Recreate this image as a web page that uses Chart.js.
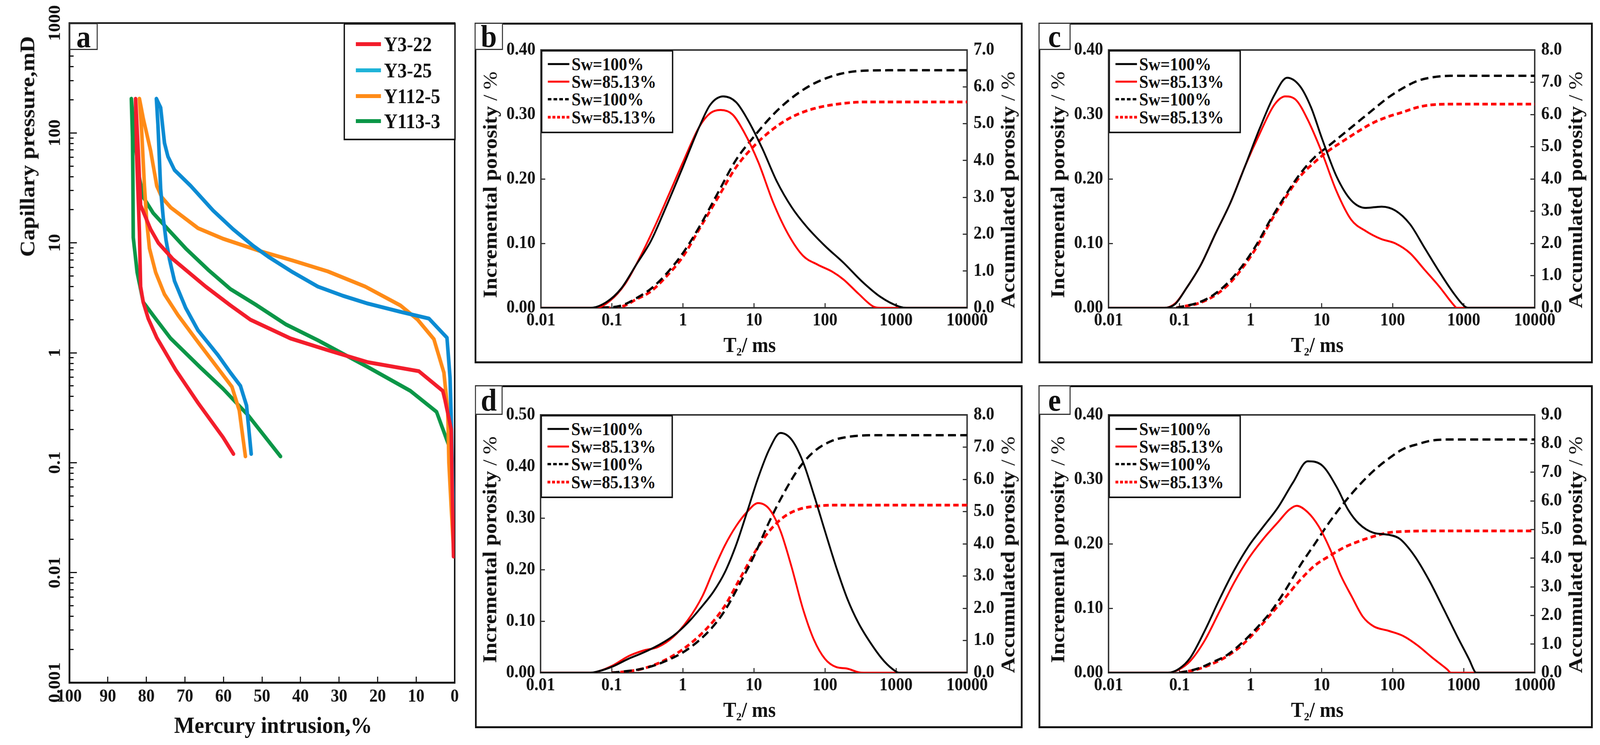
<!DOCTYPE html>
<html lang="en">
<head>
<meta charset="utf-8">
<title>Capillary pressure and NMR T2 spectra</title>
<script src="https://cdn.jsdelivr.net/npm/chart.js@4.4.1/dist/chart.umd.min.js"></script>
<style>
html, body { margin: 0; padding: 0; background: #fff; overflow: hidden; }
#stage {
  position: absolute; left: 0; top: 0; width: 4434px; height: 1907px; overflow: hidden; transform-origin: 0 0;
  font-family: 'Liberation Serif', 'Times New Roman', serif; font-weight: bold; color: #111; background: #fff;
}
.wrap { position: absolute; }
.wrap canvas { display: block; }
.box { position: absolute; box-sizing: border-box; border: 5px solid #111; }
.tag { position: absolute; box-sizing: border-box; border: 3px solid #333; background: #fff;
  display: flex; align-items: center; justify-content: center; font-size: 80px; line-height: 1; z-index: 3; }
.legend { position: absolute; box-sizing: border-box; border: 4px solid #111; background: #fff; z-index: 3; }
.legend .row { position: absolute; display: flex; align-items: center; white-space: nowrap; }
.legend svg { display: block; }
.title { position: absolute; white-space: nowrap; transform: translate(-50%, -50%); line-height: 1; z-index: 2; }
.title.v { transform: translate(-50%, -50%) rotate(-90deg); }
.title sub { font-size: 0.55em; vertical-align: -0.3em; }
.thin { font-weight: normal; }
</style>
</head>
<body>
<div id="stage"></div>
<script>
// ---------- panel a: mercury intrusion capillary pressure ----------
const aNames = ['Y3-22', 'Y3-25', 'Y112-5', 'Y113-3'];
const aLineColors = ['#f31d2b', '#0b8bd3', '#ff8b17', '#0b9647'];
const aKeyColors = ['#f31d2b', '#1fb3d8', '#ff8b17', '#0b9647'];

// [mercury intrusion %, capillary pressure] - injection branch up to the top, then withdrawal branch
const aY3_22 = [
  [0.3, 0.014], [0.6, 0.05], [0.9, 0.2], [2.5, 0.37], [3.1, 0.45], [9.3, 0.68], [22.5, 0.82], [32.3, 1.04],
  [42.6, 1.35], [53.0, 2.0], [58.2, 2.7], [64.6, 4.0], [73.1, 7.1], [76.9, 10], [78.9, 13.3], [81.5, 22],
  [82.1, 68], [82.8, 205],
  [82.5, 60], [82.0, 20], [81.8, 12.5], [81.5, 4.0], [80.8, 2.87], [79.5, 2.04], [77.3, 1.37], [72.4, 0.70],
  [66.6, 0.35], [60.1, 0.17], [57.4, 0.12]
];
const aY3_25 = [
  [0.2, 0.014], [0.5, 0.06], [0.8, 0.19], [1.2, 0.59], [2.0, 1.37], [6.7, 2.05], [14.1, 2.36], [22.5, 2.8],
  [29.0, 3.3], [35.5, 4.0], [42.0, 5.4], [48.4, 7.5], [52.3, 9.4], [57.5, 13.3], [62.7, 19.7], [68.5, 33],
  [72.7, 46], [74.4, 61], [75.3, 81], [76.3, 170], [77.4, 205],
  [77.0, 120], [76.3, 31], [75.6, 16.6], [74.9, 10.6], [74.0, 7.1], [72.7, 4.5], [69.8, 2.56], [66.6, 1.6],
  [61.4, 0.95], [58.2, 0.66], [55.6, 0.50], [54.0, 0.33], [52.8, 0.12]
];
const aY112_5 = [
  [0.2, 0.014], [0.8, 0.034], [1.5, 0.1], [1.8, 0.30], [2.8, 0.66], [5.4, 1.33], [9.6, 2.0], [14.1, 2.7],
  [23.2, 4.0], [32.9, 5.5], [42.0, 6.9], [50.4, 8.4], [60.1, 10.9], [66.6, 13.6], [73.7, 21], [76.0, 26],
  [77.3, 33], [78.9, 69], [80.8, 135], [81.8, 205],
  [81.2, 100], [80.5, 33], [79.9, 15.7], [79.2, 8.9], [77.6, 5.4], [75.3, 3.4], [71.8, 2.2], [66.6, 1.25],
  [61.4, 0.72], [57.8, 0.49], [55.9, 0.30], [54.3, 0.114]
];
const aY113_3 = [
  [0.1, 0.014], [1.5, 0.143], [4.7, 0.29], [11.5, 0.45], [22.5, 0.74], [29.0, 0.98], [35.5, 1.3], [43.9, 1.82],
  [51.7, 2.75], [58.2, 3.8], [64.0, 5.7], [69.8, 8.9], [74.4, 13.3], [78.2, 18.6], [80.8, 26], [81.8, 39],
  [83.1, 92], [83.9, 205],
  [83.6, 92], [83.5, 39], [83.4, 11.2], [82.4, 5.4], [80.8, 2.88], [77.4, 2.0], [73.7, 1.35], [65.9, 0.73],
  [60.1, 0.47], [53.6, 0.27], [45.2, 0.114]
];

const aXTicks = [0, 10, 20, 30, 40, 50, 60, 70, 80, 90, 100];
const aXTickLabels = ['0', '10', '20', '30', '40', '50', '60', '70', '80', '90', '100'];
const aYTicks = [0.001, 0.01, 0.1, 1, 10, 100, 1000];
const aYTickLabels = ['0.001', '0.01', '0.1', '1', '10', '100', '1000'];

// ---------- panels b-e: NMR T2 spectra ----------
const seriesNames = ['Sw=100%', 'Sw=85.13%', 'Sw=100%', 'Sw=85.13%'];
const t2Ticks = [0.01, 0.1, 1, 10, 100, 1000, 10000];
const t2TickLabels = ['0.01', '0.1', '1', '10', '100', '1000', '10000'];
const incLabels40 = ['0.00', '0.10', '0.20', '0.30', '0.40'];
const incLabels50 = ['0.00', '0.10', '0.20', '0.30', '0.40', '0.50'];
const accLabels7 = ['0.0', '1.0', '2.0', '3.0', '4.0', '5.0', '6.0', '7.0'];
const accLabels8 = ['0.0', '1.0', '2.0', '3.0', '4.0', '5.0', '6.0', '7.0', '8.0'];
const accLabels9 = ['0.0', '1.0', '2.0', '3.0', '4.0', '5.0', '6.0', '7.0', '8.0', '9.0'];

// [T2 ms, porosity %]
const bInc100 = [[0.01, 0], [0.05, 0], [0.084, 0.009], [0.135, 0.030], [0.22, 0.067], [0.355, 0.104], [0.575, 0.156],
  [1, 0.219], [1.7, 0.281], [2.42, 0.315], [3.69, 0.328], [5.6, 0.319], [8.05, 0.293], [13, 0.248], [21, 0.196],
  [34, 0.156], [55, 0.126], [100, 0.096], [182, 0.070], [331, 0.041], [603, 0.017], [1100, 0.002], [1400, 0], [10000, 0]];
const bInc85 = [[0.01, 0], [0.06, 0], [0.094, 0.011], [0.153, 0.037], [0.247, 0.078], [0.40, 0.126], [0.646, 0.178],
  [1, 0.226], [1.7, 0.281], [2.42, 0.302], [3.39, 0.307], [4.98, 0.30], [7.13, 0.274], [11.5, 0.226], [18.7, 0.163],
  [30, 0.115], [48.8, 0.081], [78.8, 0.067], [127, 0.056], [182, 0.044], [295, 0.022], [479, 0.002], [600, 0], [10000, 0]];
const bAcc100 = [[0.07, 0], [0.135, 0.06], [0.22, 0.26], [0.355, 0.52], [0.575, 0.91], [1, 1.49], [1.7, 2.2],
  [3.08, 3.11], [5.6, 4.02], [10.2, 4.67], [18.7, 5.25], [34, 5.70], [70, 6.09], [162, 6.35], [376, 6.44], [977, 6.45], [10000, 6.45]];
const bAcc85 = [[0.08, 0], [0.135, 0.03], [0.22, 0.23], [0.355, 0.45], [0.575, 0.84], [1, 1.39], [1.7, 2.14],
  [3.08, 2.98], [5.6, 3.82], [10.2, 4.41], [18.7, 4.86], [34, 5.18], [70, 5.41], [162, 5.54], [376, 5.59], [977, 5.59], [10000, 5.59]];

const cInc100 = [[0.01, 0], [0.061, 0], [0.087, 0.006], [0.124, 0.030], [0.20, 0.067], [0.32, 0.115], [0.52, 0.163],
  [0.83, 0.219], [1.34, 0.278], [2.16, 0.330], [3.27, 0.357], [4.95, 0.344], [7.1, 0.311], [10.1, 0.263], [16.2, 0.204],
  [26, 0.167], [42, 0.155], [70, 0.157], [109, 0.151], [175, 0.130], [282, 0.093], [454, 0.056], [730, 0.022],
  [1042, 0.002], [1200, 0], [10000, 0]];
const cInc85 = [[0.01, 0], [0.061, 0], [0.087, 0.007], [0.124, 0.030], [0.20, 0.067], [0.32, 0.115], [0.52, 0.163],
  [0.83, 0.219], [1.34, 0.27], [2.16, 0.315], [3.08, 0.328], [4.4, 0.322], [6.3, 0.293], [10.1, 0.241], [16.2, 0.181],
  [26, 0.137], [42, 0.119], [68, 0.107], [109, 0.100], [175, 0.085], [282, 0.059], [454, 0.033], [730, 0.004], [800, 0], [10000, 0]];
const cAcc100 = [[0.09, 0], [0.11, 0.04], [0.178, 0.15], [0.286, 0.37], [0.46, 0.74], [0.74, 1.26], [1.19, 1.93],
  [1.91, 2.74], [3.08, 3.48], [4.95, 4.15], [7.96, 4.67], [12.8, 5.04], [20.6, 5.41], [33, 5.78], [53, 6.15],
  [86, 6.52], [138, 6.81], [222, 7.04], [357, 7.15], [646, 7.2], [10000, 7.2]];
const cAcc85 = [[0.09, 0], [0.11, 0.04], [0.178, 0.13], [0.286, 0.33], [0.46, 0.67], [0.74, 1.19], [1.19, 1.85],
  [1.91, 2.67], [3.08, 3.41], [4.95, 4.07], [7.96, 4.52], [12.8, 4.89], [20.6, 5.19], [33, 5.48], [53, 5.74],
  [86, 5.93], [138, 6.07], [222, 6.22], [357, 6.30], [646, 6.32], [10000, 6.32]];

const dInc100 = [[0.01, 0], [0.05, 0], [0.066, 0.003], [0.107, 0.013], [0.172, 0.027], [0.279, 0.039], [0.45, 0.053],
  [0.728, 0.071], [1.18, 0.097], [1.90, 0.130], [2.73, 0.158], [3.92, 0.195], [5.61, 0.247], [8.05, 0.312],
  [11.5, 0.378], [16.6, 0.434], [23.7, 0.465], [34, 0.452], [48.8, 0.41], [70, 0.345], [100, 0.275], [144, 0.205],
  [206, 0.144], [295, 0.097], [479, 0.050], [685, 0.022], [982, 0.003], [1100, 0], [10000, 0]];
const dInc85 = [[0.01, 0], [0.05, 0], [0.066, 0.003], [0.107, 0.015], [0.172, 0.032], [0.279, 0.043], [0.45, 0.050],
  [0.728, 0.069], [1.18, 0.102], [1.90, 0.149], [2.73, 0.2], [3.92, 0.247], [5.61, 0.284], [8.05, 0.312],
  [11.5, 0.329], [16.6, 0.317], [23.7, 0.275], [34, 0.205], [48.8, 0.125], [70, 0.064], [100, 0.027], [144, 0.011],
  [206, 0.008], [295, 0.001], [350, 0], [10000, 0]];
const dAcc100 = [[0.1, 0], [0.136, 0.03], [0.279, 0.13], [0.573, 0.36], [1.18, 0.73], [2.42, 1.33], [3.92, 1.93],
  [6.3, 2.75], [10.2, 3.65], [16.6, 4.70], [26.7, 5.59], [43, 6.34], [70, 6.86], [127, 7.2], [232, 7.33], [537, 7.37], [10000, 7.37]];
const dAcc85 = [[0.1, 0], [0.136, 0.02], [0.279, 0.13], [0.573, 0.40], [1.18, 0.84], [2.42, 1.48], [3.92, 2.08],
  [6.3, 2.90], [10.2, 3.72], [16.6, 4.40], [26.7, 4.84], [43, 5.07], [70, 5.16], [144, 5.20], [10000, 5.2]];

const eInc100 = [[0.01, 0], [0.069, 0], [0.098, 0.006], [0.141, 0.023], [0.226, 0.065], [0.365, 0.114], [0.588, 0.159],
  [0.947, 0.197], [1.52, 0.227], [2.45, 0.257], [3.95, 0.295], [6.37, 0.328], [10.3, 0.321], [16.5, 0.287],
  [23.6, 0.253], [33.7, 0.231], [54, 0.217], [87.5, 0.214], [125, 0.208], [201, 0.182], [324, 0.144], [522, 0.099],
  [841, 0.053], [1202, 0.020], [1438, 0.0015], [1500, 0], [10000, 0]];
const eInc85 = [[0.01, 0], [0.069, 0], [0.098, 0.005], [0.141, 0.018], [0.226, 0.050], [0.365, 0.095], [0.588, 0.140],
  [0.947, 0.178], [1.52, 0.208], [2.45, 0.234], [3.51, 0.253], [4.45, 0.259], [6.37, 0.249], [9.1, 0.227], [13, 0.193],
  [18.6, 0.151], [26.6, 0.118], [38, 0.087], [54, 0.072], [87.5, 0.065], [141, 0.057], [227, 0.042], [365, 0.023],
  [589, 0.005], [661, 0], [10000, 0]];
const eAcc100 = [[0.1, 0], [0.111, 0.02], [0.179, 0.14], [0.288, 0.36], [0.463, 0.61], [0.746, 1.03], [1.20, 1.54],
  [1.94, 2.14], [3.12, 2.9], [5.01, 3.75], [8.08, 4.51], [13, 5.27], [21, 5.95], [33.7, 6.54], [54, 7.05],
  [87.5, 7.47], [141, 7.81], [227, 7.98], [365, 8.11], [661, 8.14], [10000, 8.14]];
const eAcc85 = [[0.1, 0], [0.111, 0.02], [0.179, 0.12], [0.288, 0.31], [0.463, 0.57], [0.746, 0.95], [1.20, 1.46],
  [1.94, 2.05], [3.12, 2.64], [5.01, 3.24], [8.08, 3.75], [13, 4.08], [21, 4.38], [33.7, 4.59], [54, 4.76],
  [87.5, 4.89], [141, 4.93], [288, 4.95], [10000, 4.95]];

// ---------- page scaling: the figure is laid out on a 4434 x 1907 stage and stretched to the window ----------
const stage = document.getElementById('stage');
function fitStage() {
  const sx = window.innerWidth / 4434;
  const sy = window.innerHeight / 1907;
  const same = Math.abs(sx - 1) < 0.002 && Math.abs(sy - 1) < 0.002;
  stage.style.transform = same ? '' : `scale(${sx}, ${sy})`;
}
fitStage();

// ---------- helpers ----------
Chart.defaults.font.family = "'Liberation Serif', 'Times New Roman', serif";
Chart.defaults.font.weight = 'bold';
Chart.defaults.color = '#111';

const toXY = pts => pts.map(([x, y]) => ({x, y}));

function div(cls, html) {
  const d = document.createElement('div');
  d.className = cls;
  if (html) d.innerHTML = html;
  return d;
}
function place(el, x, y, w, h, parent) {
  el.style.left = x + 'px';
  el.style.top = y + 'px';
  if (w != null) el.style.width = w + 'px';
  if (h != null) el.style.height = h + 'px';
  (parent || stage).appendChild(el);
  return el;
}
function addCanvas(x, y, w, h) {
  const wrap = place(div('wrap'), x, y, w, h);
  const cv = document.createElement('canvas');
  wrap.appendChild(cv);
  return cv;
}
function addTitle(html, cx, cy, size, vertical) {
  const t = place(div('title' + (vertical ? ' v' : ''), html), cx, cy);
  t.style.fontSize = size + 'px';
}
function addTag(letter, x, y, w, h) {
  place(div('tag', letter), x, y, w, h);
}
// legend built from the chart's own datasets
function addLegend(chart, x, y, w, h, o) {
  const box = place(div('legend'), x, y, w, h);
  chart.data.datasets.forEach((ds, i) => {
    const dash = ds.keyDash || ds.borderDash;
    const color = ds.keyColor || ds.borderColor;
    const lw = o.lineW || ds.borderWidth;
    const row = div('row');
    row.style.fontSize = o.fontSize + 'px';
    row.innerHTML = `<svg width="${o.sampleW}" height="24" style="margin-right:${o.gap}px">` +
      `<line x1="0" y1="12" x2="${o.sampleW}" y2="12" stroke="${color}" stroke-width="${lw}"` +
      (dash ? ` stroke-dasharray="${dash.join(' ')}"` : '') + `/></svg><span>${ds.label}</span>`;
    place(row, o.left, o.rows[i] - 30, null, 60, box);
  });
}

const plotFrame = {
  id: 'plotFrame',
  beforeDatasetsDraw(chart, args, opts) {
    const {left, top, right, bottom} = chart.chartArea;
    const ctx = chart.ctx;
    ctx.save();
    ctx.strokeStyle = opts.color;
    ctx.lineWidth = opts.width;
    ctx.strokeRect(left, top, right - left, bottom - top);
    ctx.restore();
  }
};

const baseOptions = {
  responsive: true,
  maintainAspectRatio: false,
  animation: false,
  events: []
};

const isWholeMantissa = v => {
  const m = v / Math.pow(10, Math.floor(Math.log10(v) + 1e-9));
  return Math.abs(m - Math.round(m)) < 1e-6;
};
const decadeLabel = v => {
  const k = aYTicks.findIndex(t => Math.abs(Math.log10(t) - Math.log10(v)) < 1e-6);
  return k >= 0 ? aYTickLabels[k] : '';
};

// ---------- panel a ----------
function capillaryPanel() {
  const canvas = addCanvas(100, 0, 1300, 1907);
  const series = [aY3_22, aY3_25, aY112_5, aY113_3];
  const tickFont = {size: 46};
  const chart = new Chart(canvas, {
    type: 'line',
    data: {
      datasets: series.map((pts, i) => ({
        label: aNames[i],
        data: toXY(pts),
        borderColor: aLineColors[i],
        keyColor: aKeyColors[i],
        borderWidth: 10,
        borderJoinStyle: 'round',
        borderCapStyle: 'round',
        pointRadius: 0,
        tension: 0,
        fill: false
      }))
    },
    options: {
      ...baseOptions,
      layout: {padding: {left: 22, right: 140, top: 59, bottom: 60}},
      plugins: {legend: {display: false}, tooltip: {enabled: false}, plotFrame: {color: '#111', width: 4}},
      scales: {
        x: {
          type: 'linear', min: 0, max: 100, reverse: true, position: 'bottom',
          afterBuildTicks: s => { s.ticks = aXTicks.map(v => ({value: v})); },
          afterFit: s => { s.height = 100; },
          ticks: {autoSkip: false, maxRotation: 0, padding: 25, font: tickFont, color: '#111',
            callback: (v, i) => aXTickLabels[i]},
          grid: {drawOnChartArea: false, tickLength: -15, tickWidth: 3, tickColor: '#111'},
          border: {width: 5, color: '#111'}
        },
        y: {
          type: 'logarithmic', min: 0.001, max: 1000, position: 'left', weight: 1,
          afterBuildTicks: s => { s.ticks = s.ticks.filter(t => isWholeMantissa(t.value)); },
          afterFit: s => { s.width = 70; },
          ticks: {autoSkip: false, minRotation: 90, maxRotation: 90, crossAlign: 'center', padding: -2,
            font: tickFont, color: '#111', callback: v => decadeLabel(v)},
          grid: {drawOnChartArea: false, tickLength: -12, tickWidth: 3, tickColor: '#111'},
          border: {width: 5, color: '#111'}
        },
        yMajor: {
          type: 'logarithmic', min: 0.001, max: 1000, position: 'left', weight: 0,
          afterBuildTicks: s => { s.ticks = aYTicks.map(v => ({value: v})); },
          afterFit: s => { s.width = 0; },
          ticks: {display: false},
          grid: {drawOnChartArea: false, tickLength: -21, tickWidth: 3, tickColor: '#111'},
          border: {display: false}
        }
      }
    },
    plugins: [plotFrame]
  });

  addTag('a', 192, 59, 79, 69);
  addLegend(chart, 952, 59, 311, 300, {left: 30, rows: [50, 117, 183, 247], sampleW: 70, gap: 8, fontSize: 52, lineW: 10});
  addTitle('Capillary pressure,mD', 76, 375, 58, true);
  addTitle('Mercury intrusion,%', 757, 1856, 60, false);
}

// ---------- panels b-e ----------
const nmrPanels = [
  {tag: 'b', box: [1315, 58, 2834, 930], plot: [1499, 128, 2680, 788], incMax: 0.4, accMax: 7,
    incLabels: incLabels40, accLabels: accLabels7, series: [bInc100, bInc85, bAcc100, bAcc85]},
  {tag: 'c', box: [2878, 58, 4414, 930], plot: [3072, 128, 4253, 788], incMax: 0.4, accMax: 8,
    incLabels: incLabels40, accLabels: accLabels8, series: [cInc100, cInc85, cAcc100, cAcc85]},
  {tag: 'd', box: [1316, 986, 2834, 1864], plot: [1498, 1062, 2680, 1722], incMax: 0.5, accMax: 8,
    incLabels: incLabels50, accLabels: accLabels8, series: [dInc100, dInc85, dAcc100, dAcc85]},
  {tag: 'e', box: [2878, 986, 4414, 1864], plot: [3072, 1062, 4253, 1722], incMax: 0.4, accMax: 9,
    incLabels: incLabels40, accLabels: accLabels9, series: [eInc100, eInc85, eAcc100, eAcc85]}
];

const lineStyles = [
  {color: '#000', width: 5, axis: 'y'},
  {color: '#ff0000', width: 5, axis: 'y'},
  {color: '#000', width: 6, axis: 'y2', dash: [22, 12], keyDash: [10, 6]},
  {color: '#ff0000', width: 7, axis: 'y2', dash: [15, 9], keyDash: [8, 5]}
];

function nmrPanel(p) {
  const [bx0, by0, bx1, by1] = p.box;
  const [px0, py0, px1, py1] = p.plot;
  const LW = 130, RW = 110, BH = 110;
  place(div('box'), bx0, by0, bx1 - bx0, by1 - by0);
  const canvas = addCanvas(bx0, by0, bx1 - bx0, by1 - by0);
  const tickFont = {size: 46};
  const axisGrid = {drawOnChartArea: false, tickLength: -12, tickWidth: 3, tickColor: '#333'};
  const axisBorder = {width: 4, color: '#333'};

  const chart = new Chart(canvas, {
    type: 'line',
    data: {
      datasets: p.series.map((pts, i) => {
        const st = lineStyles[i];
        return {
          label: seriesNames[i],
          data: toXY(pts),
          yAxisID: st.axis,
          borderColor: st.color,
          borderWidth: st.width,
          borderDash: st.dash,
          keyDash: st.keyDash,
          pointRadius: 0,
          cubicInterpolationMode: 'monotone',
          fill: false
        };
      })
    },
    options: {
      ...baseOptions,
      layout: {padding: {left: px0 - bx0 - LW, right: bx1 - px1 - RW, top: py0 - by0, bottom: by1 - py1 - BH}},
      plugins: {legend: {display: false}, tooltip: {enabled: false}, plotFrame: {color: '#333', width: 4}},
      scales: {
        x: {
          type: 'logarithmic', min: 0.01, max: 10000, position: 'bottom',
          afterBuildTicks: s => { s.ticks = t2Ticks.map(v => ({value: v})); },
          afterFit: s => { s.height = BH; },
          ticks: {autoSkip: false, maxRotation: 0, padding: 18, font: tickFont, color: '#111',
            callback: (v, i) => t2TickLabels[i]},
          grid: axisGrid, border: axisBorder
        },
        y: {
          type: 'linear', min: 0, max: p.incMax, position: 'left',
          afterFit: s => { s.width = LW; },
          ticks: {stepSize: 0.1, autoSkip: false, padding: 27, font: tickFont, color: '#111',
            callback: (v, i) => p.incLabels[i]},
          grid: axisGrid, border: axisBorder
        },
        y2: {
          type: 'linear', min: 0, max: p.accMax, position: 'right',
          afterFit: s => { s.width = RW; },
          ticks: {stepSize: 1, autoSkip: false, padding: 30, font: tickFont, color: '#111',
            callback: (v, i) => p.accLabels[i]},
          grid: axisGrid, border: axisBorder
        }
      }
    },
    plugins: [plotFrame]
  });

  addTag(p.tag, bx0, by0, px0 - bx0 - 105, py0 - by0);
  addLegend(chart, px0, py0, 367, 213, {left: 15, rows: [32, 77, 122, 168], sampleW: 60, gap: 6, fontSize: 46});
  addTitle('Incremental porosity <span class="thin">/ %</span>', px0 - 141, py0 + 345, 55, true);
  addTitle('Accumulated porosity <span class="thin">/ %</span>', px1 + 113, py0 + 358, 55, true);
  addTitle('T<sub>2</sub>/ ms', (px0 + px1) / 2 - 12, py1 + 98, 54, false);
}

capillaryPanel();
nmrPanels.forEach(nmrPanel);
</script>
</body>
</html>
